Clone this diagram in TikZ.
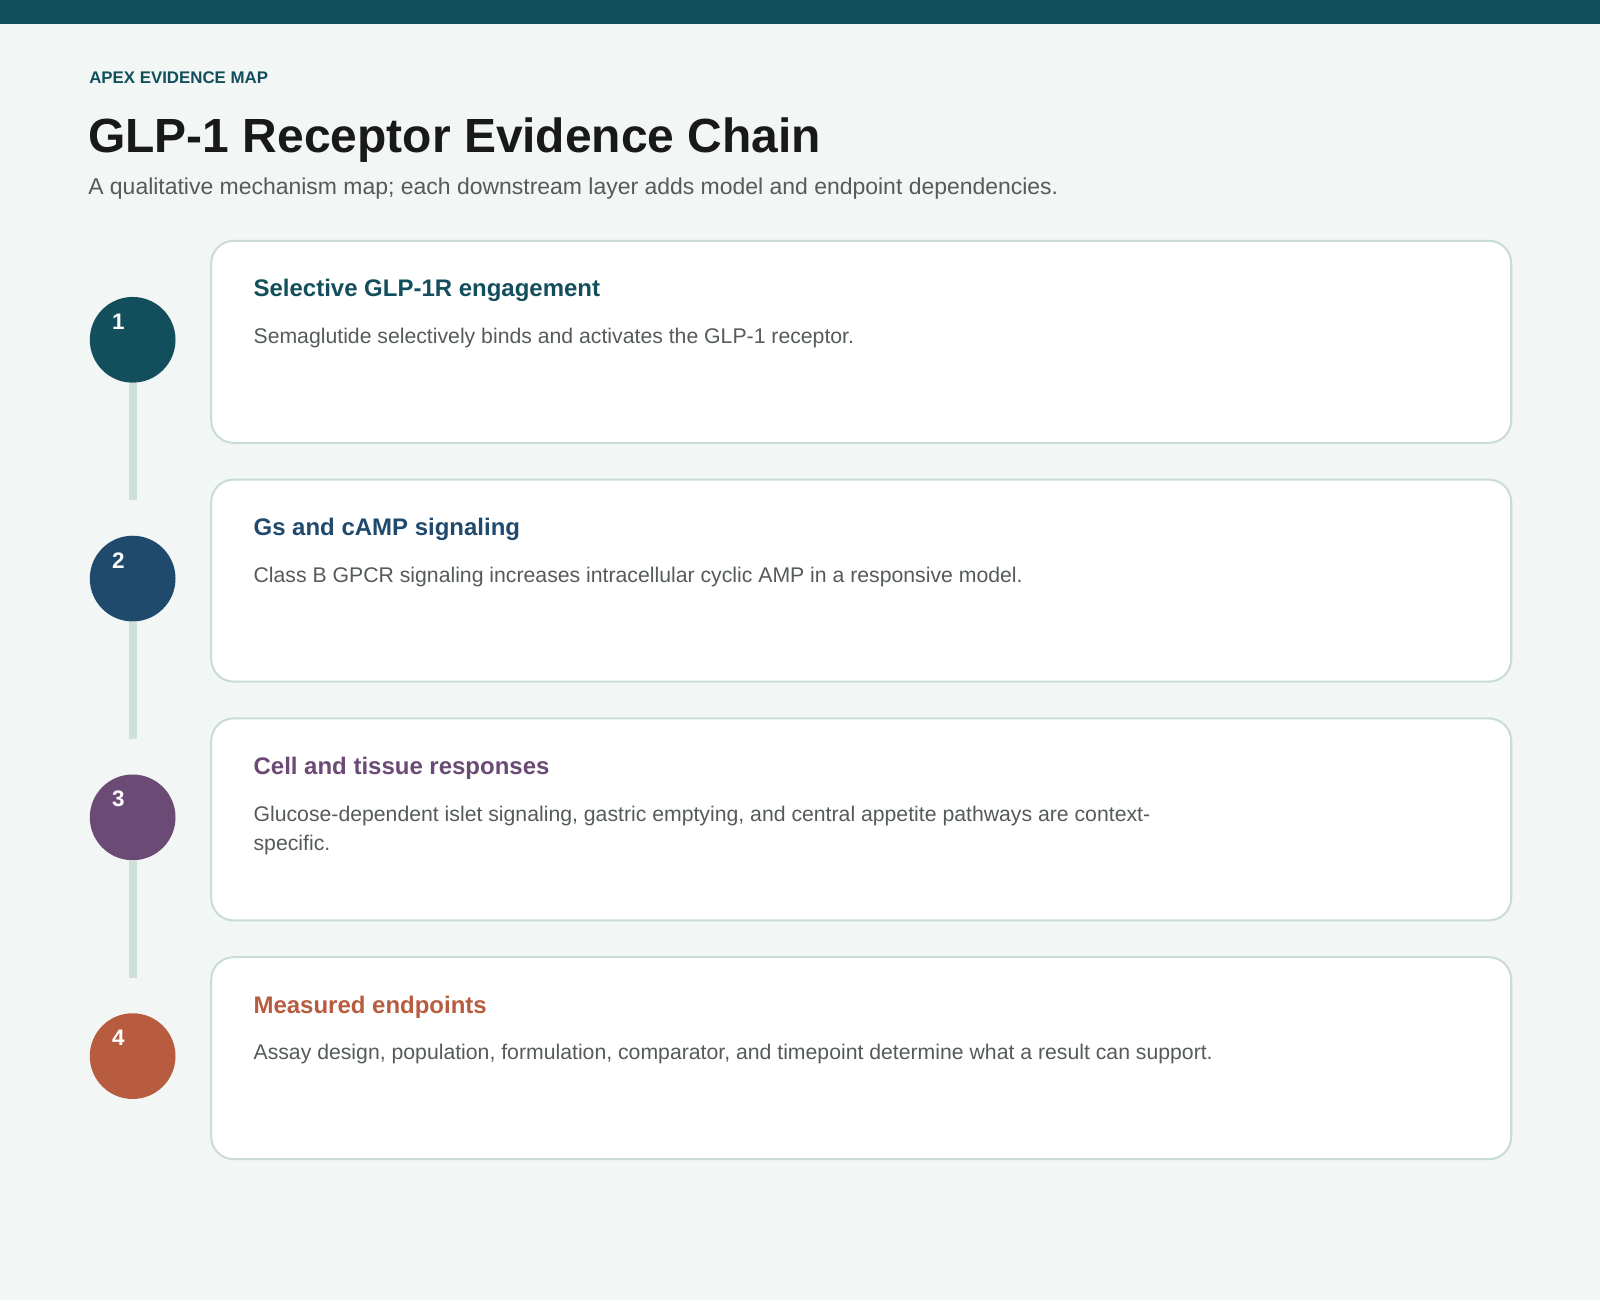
\documentclass[tikz,border=0pt]{standalone}
\usepackage{fontspec}
\setmainfont{Liberation Sans}
\definecolor{bg}{HTML}{F2F6F5}
\definecolor{teal}{HTML}{124E5C}
\definecolor{navy}{HTML}{1F4A6E}
\definecolor{plum}{HTML}{6B4A75}
\definecolor{rust}{HTML}{B85C40}
\definecolor{bord}{HTML}{C9DCD6}
\definecolor{rail}{HTML}{CFE0DA}
\definecolor{txt}{HTML}{555B5A}
\begin{document}
\begin{tikzpicture}[x=1pt,y=-1pt,
  card/.style={draw=bord,line width=2pt,fill=white,rounded corners=22pt},
  dot/.style={circle,minimum size=84pt,inner sep=0pt},
  num/.style={text=white,font=\fontsize{22}{26}\selectfont\bfseries},
  head/.style={anchor=west,font=\fontsize{23.5}{28}\selectfont\bfseries},
  body/.style={anchor=north west,text=txt,align=left,font=\fontsize{20.8}{29}\selectfont},
  rl/.style={draw=rail,line width=8pt}]
\fill[bg] (0,0) rectangle (1568,1274);
\fill[teal] (0,0) rectangle (1568,24);
\node[anchor=west,text=teal,font=\fontsize{16.5}{19}\selectfont\bfseries] (k) at (84,76) {APEX EVIDENCE MAP};
\node[anchor=west,text=black!90,font=\fontsize{47}{56}\selectfont\bfseries] (t) at (83,137) {GLP-1 Receptor Evidence Chain};
\node[anchor=west,text=txt,font=\fontsize{22.5}{26}\selectfont] (s) at (83,185) {A qualitative mechanism map; each downstream layer adds model and endpoint dependencies.};
\foreach \i/\y/\c/\h/\b in {
 1/236/teal/{Selective GLP-1R engagement}/{Semaglutide selectively binds and activates the GLP-1 receptor.},
 2/470/navy/{Gs and cAMP signaling}/{Class B GPCR signaling increases intracellular cyclic AMP in a responsive model.},
 3/704/plum/{Cell and tissue responses}/{Glucose-dependent islet signaling, gastric emptying, and central appetite pathways are context-\\specific.},
 4/938/rust/{Measured endpoints}/{Assay design, population, formulation, comparator, and timepoint determine what a result can support.}}{
 \draw[card] (207,\y) rectangle (1481,\y+198);
 \node[head,text=\c] (h\i) at (245,\y+49) {\h};
 \node[body] (b\i) at (245,\y+82) {\b};
 \node[dot,fill=\c] (c\i) at (130,\y+97) {};
 \node[num] (n\i) at (116,\y+79) {\i};
}
\foreach \i/\y in {1/490,2/724,3/958}{
 \coordinate (e\i) at (130,\y);
 \draw[rl] (c\i.south) -- (e\i);
}
\end{tikzpicture}
\end{document}
